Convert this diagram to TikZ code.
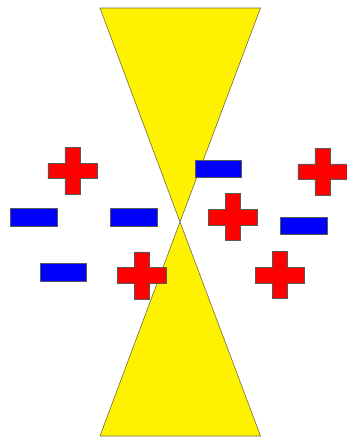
\documentclass[tikz,border=0pt]{standalone}
\begin{document}
\begin{tikzpicture}[x=1pt,y=-1pt,
  outline/.style={draw=black!65, line width=0.6pt, line join=miter},
  cone/.style={outline, draw=black!40!olive!70!gray, fill=yellow},
  pics/poscharge/.style={code={
    \path[outline, fill=red] (-24.5,-7.8) -- (-7.5,-7.8) -- (-7.5,-23.5) -- (7.5,-23.5) -- (7.5,-7.8) -- (24.5,-7.8)
      -- (24.5,7.8) -- (7.5,7.8) -- (7.5,23.5) -- (-7.5,23.5) -- (-7.5,7.8) -- (-24.5,7.8) -- cycle;}},
  pics/negcharge/.style={code={
    \path[outline, fill=blue] (-23.3,-8.6) rectangle (23.3,8.6);}}
]
\useasboundingbox (0,0) rectangle (346,439);
% cones
\coordinate (apex) at (180,222);
\path[cone] (100,8) -- (260.5,8) -- (apex) -- cycle;
\path[cone] (100,436) -- (260.5,436) -- (apex) -- cycle;
% negative charges
\pic at (34,217.3) {negcharge};
\pic at (133.8,217.3) {negcharge};
\pic at (63.3,272.3) {negcharge};
\pic at (218.2,168.8) {negcharge};
\pic at (304,225.8) {negcharge};
% positive charges
\pic at (72.3,170.8) {poscharge};
\pic at (141.5,275.3) {poscharge};
\pic at (322.3,171.7) {poscharge};
\pic at (233,217.2) {poscharge};
\pic at (280,275.2) {poscharge};
\end{tikzpicture}
\end{document}
